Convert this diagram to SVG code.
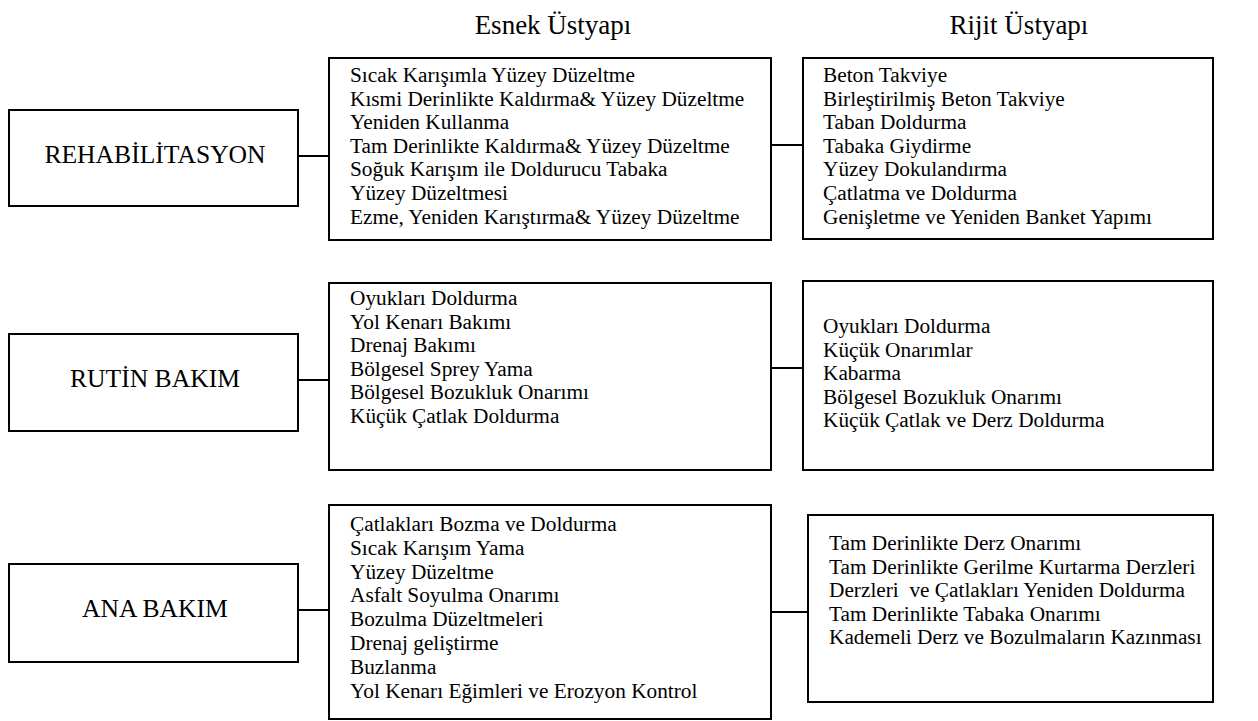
<svg xmlns="http://www.w3.org/2000/svg" width="1258" height="721" viewBox="0 0 1258 721">
<style>
.box{fill:#fff;stroke:#000;stroke-width:2}
.ln{stroke:#000;stroke-width:2;fill:none}
text{font-family:'Liberation Serif','DejaVu Serif',serif;fill:#000}
.t{font-size:21.3px}
.lab{font-size:25.6px;text-anchor:middle}
.hd{font-size:27px;text-anchor:middle}
</style>
<rect width="1258" height="721" fill="#fff"/>
<g id="headers">
<text class="hd" x="553" y="34">Esnek Üstyapı</text>
<text class="hd" x="1019" y="34">Rijit Üstyapı</text>
</g>
<g id="connectors">
<line class="ln" x1="298" y1="156" x2="329" y2="156"/>
<line class="ln" x1="771" y1="145" x2="803" y2="145"/>
<line class="ln" x1="298" y1="380" x2="328" y2="380"/>
<line class="ln" x1="771" y1="368" x2="803" y2="368"/>
<line class="ln" x1="298" y1="610" x2="328" y2="610"/>
<line class="ln" x1="771" y1="612" x2="808" y2="612"/>
</g>
<g id="rehab">
<rect class="box" x="9" y="110" width="289" height="96"/>
<text class="lab" x="155" y="163">REHABİLİTASYON</text>
</g>
<g id="rutin">
<rect class="box" x="9" y="334" width="289" height="97"/>
<text class="lab" x="155" y="387">RUTİN BAKIM</text>
</g>
<g id="ana">
<rect class="box" x="9" y="564" width="289" height="98"/>
<text class="lab" x="155" y="617">ANA BAKIM</text>
</g>
<g id="esnek-rehab">
<rect class="box" x="329" y="58" width="442" height="182"/>
<text class="t" x="350" y="82">
<tspan x="350" dy="0">Sıcak Karışımla Yüzey Düzeltme</tspan>
<tspan x="350" dy="23.6">Kısmi Derinlikte Kaldırma&amp; Yüzey Düzeltme</tspan>
<tspan x="350" dy="23.6">Yeniden Kullanma</tspan>
<tspan x="350" dy="23.6">Tam Derinlikte Kaldırma&amp; Yüzey Düzeltme</tspan>
<tspan x="350" dy="23.6">Soğuk Karışım ile Doldurucu Tabaka</tspan>
<tspan x="350" dy="23.6">Yüzey Düzeltmesi</tspan>
<tspan x="350" dy="23.6">Ezme, Yeniden Karıştırma&amp; Yüzey Düzeltme</tspan>
</text>
</g>
<g id="rijit-rehab">
<rect class="box" x="803" y="58" width="410" height="181"/>
<text class="t" x="823" y="82">
<tspan x="823" dy="0">Beton Takviye</tspan>
<tspan x="823" dy="23.6">Birleştirilmiş Beton Takviye</tspan>
<tspan x="823" dy="23.6">Taban Doldurma</tspan>
<tspan x="823" dy="23.6">Tabaka Giydirme</tspan>
<tspan x="823" dy="23.6">Yüzey Dokulandırma</tspan>
<tspan x="823" dy="23.6">Çatlatma ve Doldurma</tspan>
<tspan x="823" dy="23.6">Genişletme ve Yeniden Banket Yapımı</tspan>
</text>
</g>
<g id="esnek-rutin">
<rect class="box" x="329" y="283" width="442" height="187"/>
<text class="t" x="350" y="305">
<tspan x="350" dy="0">Oyukları Doldurma</tspan>
<tspan x="350" dy="23.6">Yol Kenarı Bakımı</tspan>
<tspan x="350" dy="23.6">Drenaj Bakımı</tspan>
<tspan x="350" dy="23.6">Bölgesel Sprey Yama</tspan>
<tspan x="350" dy="23.6">Bölgesel Bozukluk Onarımı</tspan>
<tspan x="350" dy="23.6">Küçük Çatlak Doldurma</tspan>
</text>
</g>
<g id="rijit-rutin">
<rect class="box" x="803" y="281" width="410" height="189"/>
<text class="t" x="823" y="333">
<tspan x="823" dy="0">Oyukları Doldurma</tspan>
<tspan x="823" dy="23.6">Küçük Onarımlar</tspan>
<tspan x="823" dy="23.6">Kabarma</tspan>
<tspan x="823" dy="23.6">Bölgesel Bozukluk Onarımı</tspan>
<tspan x="823" dy="23.6">Küçük Çatlak ve Derz Doldurma</tspan>
</text>
</g>
<g id="esnek-ana">
<rect class="box" x="329" y="505" width="442" height="214"/>
<text class="t" x="350" y="531">
<tspan x="350" dy="0">Çatlakları Bozma ve Doldurma</tspan>
<tspan x="350" dy="23.8">Sıcak Karışım Yama</tspan>
<tspan x="350" dy="23.8">Yüzey Düzeltme</tspan>
<tspan x="350" dy="23.8">Asfalt Soyulma Onarımı</tspan>
<tspan x="350" dy="23.8">Bozulma Düzeltmeleri</tspan>
<tspan x="350" dy="23.8">Drenaj geliştirme</tspan>
<tspan x="350" dy="23.8">Buzlanma</tspan>
<tspan x="350" dy="23.8">Yol Kenarı Eğimleri ve Erozyon Kontrol</tspan>
</text>
</g>
<g id="rijit-ana">
<rect class="box" x="808" y="515" width="405" height="187"/>
<text class="t" x="829" y="550">
<tspan x="829" dy="0">Tam Derinlikte Derz Onarımı</tspan>
<tspan x="829" dy="23.6">Tam Derinlikte Gerilme Kurtarma Derzleri</tspan>
<tspan x="829" dy="23.6">Derzleri&#160; ve Çatlakları Yeniden Doldurma</tspan>
<tspan x="829" dy="23.6">Tam Derinlikte Tabaka Onarımı</tspan>
<tspan x="829" dy="23.6">Kademeli Derz ve Bozulmaların Kazınması</tspan>
</text>
</g>
</svg>
